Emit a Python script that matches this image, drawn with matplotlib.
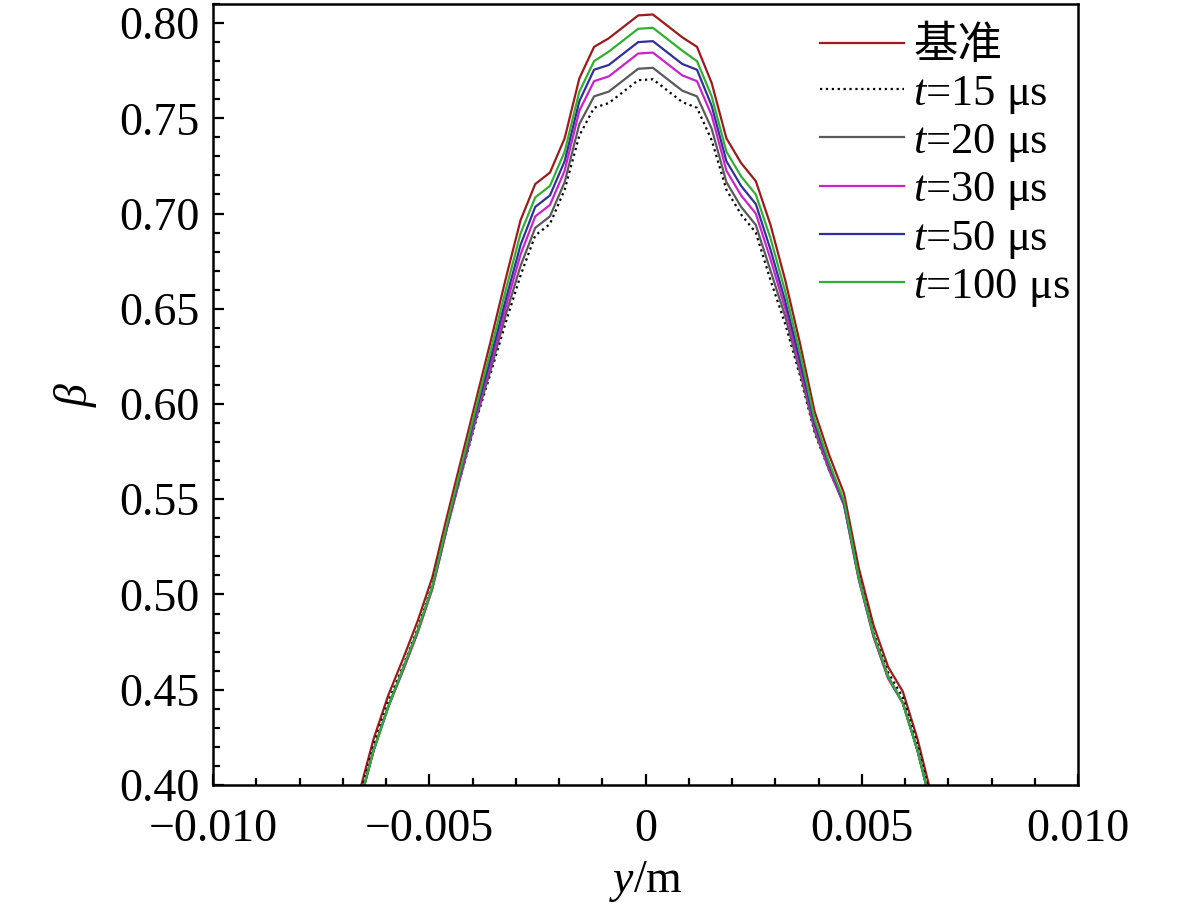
import matplotlib
matplotlib.use("Agg")
import matplotlib.pyplot as plt
from matplotlib.ticker import MultipleLocator, FuncFormatter

plt.rcParams['font.family'] = ['Liberation Serif', 'Noto Sans CJK SC']
plt.rcParams['mathtext.fontset'] = 'custom'
plt.rcParams['mathtext.rm'] = 'Liberation Serif'
plt.rcParams['mathtext.it'] = 'Liberation Serif:italic'

# ===== DADOS =====
y_pos = [-0.00697, -0.00663, -0.00629, -0.00595, -0.00561, -0.00527, -0.00493,
         -0.00459, -0.00425, -0.00391, -0.00357, -0.00323, -0.00289, -0.00255,
         -0.00221, -0.00187, -0.00153, -0.00119, -0.00085, -0.00051, -0.00017,
         0.00017, 0.00051, 0.00085, 0.00119, 0.00153, 0.00187, 0.00221,
         0.00255, 0.00289, 0.00323, 0.00357, 0.00391, 0.00425, 0.00459,
         0.00493, 0.00527, 0.00561, 0.00595, 0.00629, 0.00663, 0.00697]

beta_ref = [0.3620, 0.3950, 0.4240, 0.4470, 0.4660, 0.4860, 0.5090,
            0.5410, 0.5720, 0.6030, 0.6340, 0.6660, 0.6965, 0.7155,
            0.7215, 0.7395, 0.7710, 0.7875, 0.7920, 0.7980, 0.8040,
            0.8045, 0.7985, 0.7925, 0.7875, 0.7685, 0.7395, 0.7265,
            0.7170, 0.6940, 0.6650, 0.6320, 0.5960, 0.5730, 0.5530,
            0.5140, 0.4840, 0.4620, 0.4490, 0.4240, 0.3930, 0.3600]

beta_15 = [0.3590, 0.3920, 0.4210, 0.4440, 0.4620, 0.4820, 0.5050,
           0.5360, 0.5640, 0.5920, 0.6170, 0.6430, 0.6675, 0.6885,
           0.6945, 0.7125, 0.7410, 0.7555, 0.7580, 0.7640, 0.7700,
           0.7705, 0.7645, 0.7585, 0.7555, 0.7385, 0.7125, 0.6995,
           0.6900, 0.6650, 0.6420, 0.6150, 0.5850, 0.5650, 0.5480,
           0.5100, 0.4800, 0.4590, 0.4460, 0.4210, 0.3900, 0.3570]

beta_20 = [0.3560, 0.3890, 0.4180, 0.4410, 0.4600, 0.4800, 0.5030,
           0.5350, 0.5640, 0.5930, 0.6190, 0.6470, 0.6725, 0.6925,
           0.6985, 0.7165, 0.7470, 0.7615, 0.7640, 0.7700, 0.7760,
           0.7765, 0.7705, 0.7645, 0.7615, 0.7445, 0.7165, 0.7035,
           0.6940, 0.6700, 0.6460, 0.6170, 0.5860, 0.5650, 0.5470,
           0.5080, 0.4780, 0.4560, 0.4430, 0.4180, 0.3870, 0.3540]

beta_30 = [0.3560, 0.3890, 0.4180, 0.4410, 0.4600, 0.4800, 0.5030,
           0.5350, 0.5650, 0.5950, 0.6220, 0.6510, 0.6785, 0.6985,
           0.7045, 0.7225, 0.7540, 0.7695, 0.7720, 0.7780, 0.7840,
           0.7845, 0.7785, 0.7725, 0.7695, 0.7515, 0.7225, 0.7095,
           0.7000, 0.6760, 0.6500, 0.6200, 0.5880, 0.5660, 0.5470,
           0.5080, 0.4780, 0.4560, 0.4430, 0.4180, 0.3870, 0.3540]

beta_50 = [0.3560, 0.3890, 0.4180, 0.4410, 0.4610, 0.4810, 0.5040,
           0.5360, 0.5670, 0.5970, 0.6250, 0.6550, 0.6835, 0.7035,
           0.7095, 0.7275, 0.7590, 0.7755, 0.7780, 0.7840, 0.7900,
           0.7905, 0.7845, 0.7785, 0.7755, 0.7565, 0.7275, 0.7145,
           0.7050, 0.6810, 0.6540, 0.6230, 0.5900, 0.5680, 0.5480,
           0.5090, 0.4790, 0.4570, 0.4430, 0.4180, 0.3870, 0.3540]

beta_100 = [0.3560, 0.3890, 0.4180, 0.4410, 0.4610, 0.4810, 0.5040,
            0.5370, 0.5680, 0.5990, 0.6290, 0.6600, 0.6895, 0.7085,
            0.7145, 0.7325, 0.7640, 0.7800, 0.7850, 0.7910, 0.7970,
            0.7975, 0.7915, 0.7855, 0.7800, 0.7615, 0.7325, 0.7195,
            0.7100, 0.6870, 0.6590, 0.6270, 0.5920, 0.5690, 0.5490,
            0.5090, 0.4790, 0.4570, 0.4430, 0.4180, 0.3870, 0.3540]

series = [
    (beta_ref, '基准', '#9e1a1a', '-'),
    (beta_15, '$t$=15 μs', 'black', ':'),
    (beta_20, '$t$=20 μs', '#5a5a5a', '-'),
    (beta_30, '$t$=30 μs', '#cc22cc', '-'),
    (beta_50, '$t$=50 μs', '#30309a', '-'),
    (beta_100, '$t$=100 μs', '#30b030', '-'),
]

fig = plt.figure(figsize=(11.81, 9.10), dpi=100)
ax = fig.add_axes([0.1804, 0.1374, 0.7324, 0.8582])

for vals, rotulo, cor, estilo in series:
    ax.plot(y_pos, vals, color=cor, linestyle=estilo, lw=1.6, label=rotulo)

ax.set_xlim(-0.010, 0.010)
ax.set_ylim(0.40, 0.810)

ax.xaxis.set_major_locator(MultipleLocator(0.005))
ax.xaxis.set_minor_locator(MultipleLocator(0.001))
ax.yaxis.set_major_locator(MultipleLocator(0.05))
ax.yaxis.set_minor_locator(MultipleLocator(0.01))


def fmt_x(v, pos):
    if abs(v) < 1e-9:
        return '0'
    return f'{v:.3f}'.replace('-', '\u2212')


ax.xaxis.set_major_formatter(FuncFormatter(fmt_x))
ax.yaxis.set_major_formatter(FuncFormatter(lambda v, p: f'{v:.2f}'))

ax.tick_params(which='both', direction='in', top=False, right=False,
               width=1.6, labelsize=33)
ax.tick_params(which='major', length=8)
ax.tick_params(which='minor', length=5)
ax.tick_params(axis='x', which='major', pad=17)
ax.tick_params(axis='y', which='major', pad=10)
for sp in ax.spines.values():
    sp.set_linewidth(1.8)

ax.set_xlabel('$y$/m', fontsize=33, labelpad=6)
ax.set_ylabel(r'$\beta$', fontsize=33, labelpad=14)

ax.legend(loc='upper left', bbox_to_anchor=(820 / 1181, 1 - 26 / 910),
          bbox_transform=fig.transFigure, frameon=False, fontsize=32,
          handlelength=1.9, handletextpad=0.2, labelspacing=0.14,
          borderpad=0, borderaxespad=0)

fig.savefig("out.png", dpi=100)
